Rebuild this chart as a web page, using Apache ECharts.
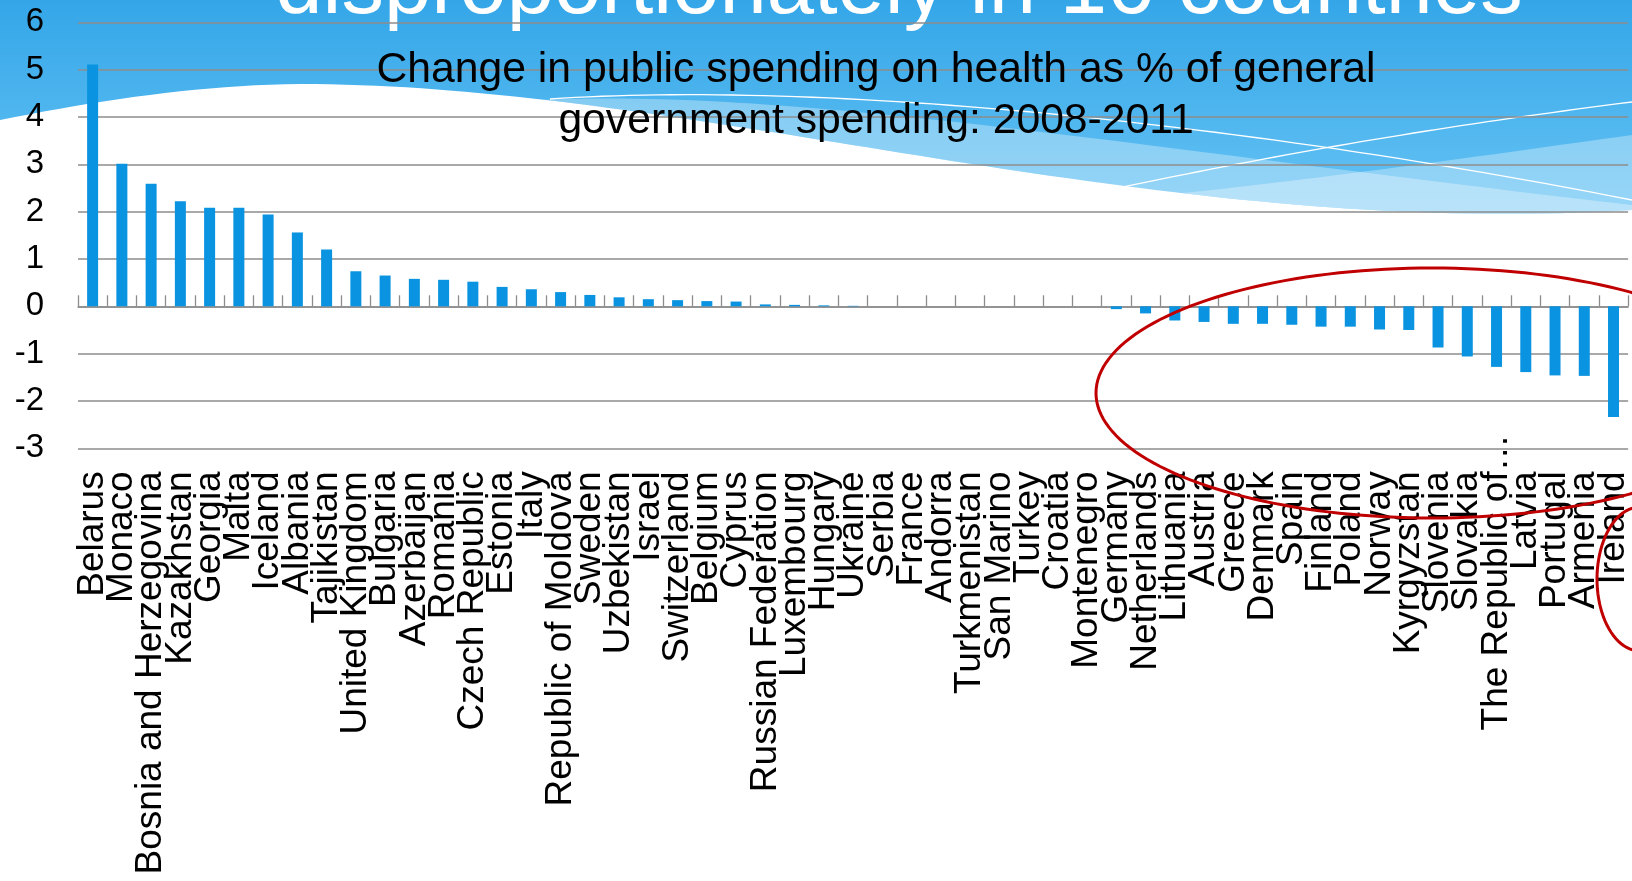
<!DOCTYPE html>
<html><head><meta charset="utf-8">
<script src="https://cdn.jsdelivr.net/npm/echarts@6/dist/echarts.min.js"></script>
<style>html,body{margin:0;padding:0;background:#fff}#c{width:1632px;height:881px}</style>
</head><body><div id="c"></div>
<script>
// ---- data ----
const categories = ["Belarus","Monaco","Bosnia and Herzegovina","Kazakhstan","Georgia","Malta","Iceland","Albania","Tajikistan","United Kingdom","Bulgaria","Azerbaijan","Romania","Czech Republic","Estonia","Italy","Republic of Moldova","Sweden","Uzbekistan","Israel","Switzerland","Belgium","Cyprus","Russian Federation","Luxembourg","Hungary","Ukraine","Serbia","France","Andorra","Turkmenistan","San Marino","Turkey","Croatia","Montenegro","Germany","Netherlands","Lithuania","Austria","Greece","Denmark","Spain","Finland","Poland","Norway","Kyrgyzstan","Slovenia","Slovakia","The Republic of…","Latvia","Portugal","Armenia","Ireland"];
const values = [5.11,3.01,2.59,2.22,2.08,2.08,1.94,1.56,1.20,0.74,0.65,0.58,0.56,0.52,0.41,0.36,0.30,0.24,0.19,0.15,0.13,0.11,0.10,0.04,0.03,0.02,0.01,0,0,0,0,0,0,0,0,-0.06,-0.15,-0.30,-0.33,-0.37,-0.37,-0.39,-0.43,-0.43,-0.49,-0.50,-0.87,-1.06,-1.28,-1.39,-1.46,-1.47,-2.34];
const yMin = -3, yMax = 6, yStep = 1;
const chartTitle = "Change in public spending on health as % of general\ngovernment spending: 2008-2011";
const slideTitle = "disproportionately in 16 countries";

// ---- decorative background helpers ----
function cubic(p0,p1,p2,p3,n){
  const pts=[];
  for(let i=0;i<=n;i++){
    const t=i/n, u=1-t;
    const a=u*u*u,b=3*u*u*t,c=3*u*t*t,d=t*t*t;
    pts.push([a*p0[0]+b*p1[0]+c*p2[0]+d*p3[0], a*p0[1]+b*p1[1]+c*p2[1]+d*p3[1]]);
  }
  return pts;
}
function ellipsePts(cx,cy,rx,ry,n){
  const pts=[];
  for(let i=0;i<n;i++){const a=2*Math.PI*i/n;pts.push([cx+rx*Math.cos(a),cy+ry*Math.sin(a)]);}
  return pts;
}
const W=1632;
const boundary = cubic([0,120],[100,100],[200,85],[300,84],20).concat(cubic([300,84],[700,84],[1150,240],[W,210],80).slice(1));
const revB = boundary.slice().reverse();
const bluePoly = [[0,0],[W,0]].concat(revB);
const band1Top = cubic([540,100],[800,88],[1150,150],[W,205],60);
const band1 = band1Top.concat([[W,210]]).concat(revB.filter(p=>p[0]>=540));
const band2Top = cubic([1050,205],[1250,190],[1450,160],[W,135],40);
const band2 = band2Top.concat([[W,210]]).concat(revB.filter(p=>p[0]>=1050));
const line1 = cubic([550,99],[800,82],[1200,115],[W,200],60);
const line2 = cubic([1118,188],[1300,150],[1450,125],[W,102],40);

const chart = echarts.init(document.getElementById('c'), null, {renderer:'canvas'});
const FONT = "'Liberation Sans', Arial, sans-serif";
const LABEL_MARGIN = 23, LABEL_SIZE = 37;
const graphics = [
  {id:'bg',type:'polygon',z:-10,silent:true,shape:{points:bluePoly},
    style:{fill:new echarts.graphic.LinearGradient(0,0,0,1,[{offset:0,color:'#34a6e8'},{offset:1,color:'#66c3f4'}])}},
  {id:'band1',type:'polygon',z:-9,silent:true,shape:{points:band1},style:{fill:'rgba(255,255,255,0.32)'}},
  {id:'band2',type:'polygon',z:-9,silent:true,shape:{points:band2},style:{fill:'rgba(255,255,255,0.32)'}},
  {id:'line1',type:'polyline',z:-8,silent:true,shape:{points:line1},style:{stroke:'#ffffff',lineWidth:1.3,fill:null}},
  {id:'line2',type:'polyline',z:-8,silent:true,shape:{points:line2},style:{stroke:'#ffffff',lineWidth:1.3,fill:null}},
  {id:'slideTitle',type:'text',z:-7,silent:true,x:899,y:-10,style:{text:slideTitle,font:"85px 'Liberation Sans', Arial, sans-serif",fill:'#ffffff',textAlign:'center',textVerticalAlign:'middle'}},
  {id:'chartTitle',type:'text',z:50,silent:true,x:876,y:45,style:{text:chartTitle,font:"42.7px 'Liberation Sans', Arial, sans-serif",lineHeight:51,fill:'#000000',textAlign:'center',textVerticalAlign:'top'}},
  {id:'ell1',type:'polygon',z:60,silent:true,shape:{points:ellipsePts(1432,393,336,125,180)},style:{fill:null,stroke:'#c00000',lineWidth:3}},
  {id:'ell2',type:'polygon',z:60,silent:true,shape:{points:ellipsePts(1640,579,43,72,90)},style:{fill:null,stroke:'#c00000',lineWidth:3}}
];
chart.setOption({
  animation:false,
  backgroundColor:'#ffffff',
  grid:{left:78,right:1,top:22.3,bottom:432.7,containLabel:false},
  xAxis:[{
    type:'category',data:categories,position:'bottom',boundaryGap:true,
    axisLine:{show:false,onZero:false},axisTick:{show:false},
    axisLabel:{rotate:90,interval:0,fontSize:LABEL_SIZE,fontFamily:FONT,color:'#000',margin:LABEL_MARGIN,
      formatter:function(v){ return v.endsWith('…') ? v.slice(0,-1) : v; }}
  },{
    type:'category',data:categories,position:'bottom',boundaryGap:true,
    axisLine:{show:true,onZero:true,lineStyle:{color:'#8c8c8c',width:1.5}},
    axisTick:{show:true,inside:true,length:11,interval:0,lineStyle:{color:'#8c8c8c',width:1.3}},
    axisLabel:{show:false}
  }],
  yAxis:{
    type:'value',min:yMin,max:yMax,interval:yStep,
    axisLine:{show:false},axisTick:{show:false},
    axisLabel:{fontSize:33,fontFamily:FONT,color:'#000',margin:34},
    splitLine:{show:true,lineStyle:{color:'#8c8c8c',width:1.5}}
  },
  series:[{type:'bar',xAxisIndex:0,data:values,barWidth:11,itemStyle:{color:'#0993e0'},z:3}],
  graphic:graphics
});
// overflowing ellipsis of the truncated category label, placed via the axis scales
categories.forEach(function(c,i){
  if (c.endsWith('…')) {
    const x = chart.convertToPixel({xAxisIndex:0}, i);
    const y = chart.convertToPixel({yAxisIndex:0}, yMin) + LABEL_MARGIN;
    graphics.push({id:'dots'+i,type:'text',z:40,silent:true,x:x,y:y,rotation:Math.PI/2,
      style:{text:'…',font:LABEL_SIZE+"px 'Liberation Sans', Arial, sans-serif",fill:'#000',textAlign:'left',textVerticalAlign:'middle'}});
  }
});
chart.setOption({graphic:graphics});
</script></body></html>
